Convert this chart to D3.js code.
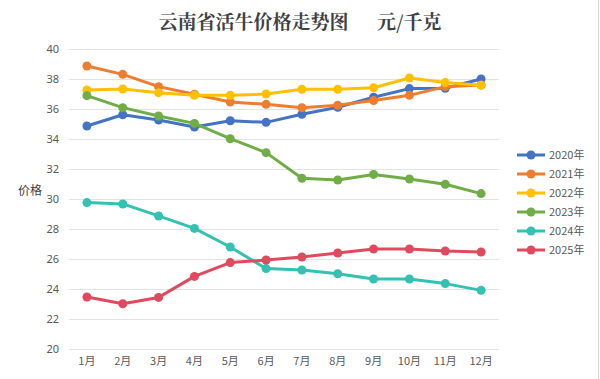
<!DOCTYPE html>
<html><head><meta charset="utf-8">
<script src="https://cdn.jsdelivr.net/npm/d3@7/dist/d3.min.js"></script>
<style>
html,body{margin:0;padding:0;background:#fff;}
svg{display:block;font-family:"Microsoft YaHei","Noto Sans CJK SC","Noto Sans",sans-serif;}
</style></head>
<body><svg id="c" width="600" height="379"></svg>
<script>
const months = ["1月","2月","3月","4月","5月","6月","7月","8月","9月","10月","11月","12月"];
const seriesNames = ["2020年","2021年","2022年","2023年","2024年","2025年"];
const colors = ["#4472C4","#ED7D31","#FFC000","#70AD47","#33C1B1","#E04A5E"];
const v2020 = [34.87,35.62,35.27,34.8,35.22,35.11,35.65,36.12,36.78,37.36,37.38,38.0];
const v2021 = [38.87,38.31,37.49,36.98,36.47,36.31,36.09,36.25,36.56,36.91,37.49,37.6];
const v2022 = [37.27,37.33,37.09,36.91,36.91,37.0,37.31,37.31,37.42,38.07,37.76,37.58];
const v2023 = [36.89,36.09,35.53,35.04,34.02,33.09,31.38,31.27,31.64,31.33,30.98,30.36];
const v2024 = [29.76,29.67,28.87,28.04,26.8,25.36,25.27,25.02,24.67,24.67,24.36,23.91];
const v2025 = [23.47,23.02,23.44,24.84,25.76,25.93,26.13,26.4,26.67,26.67,26.53,26.47];
const yTicks = [20,22,24,26,28,30,32,34,36,38,40];
const title = "云南省活牛价格走势图      元/千克";
const yLabel = "价格";

const allValues = [v2020,v2021,v2022,v2023,v2024,v2025];
const svg = d3.select("#c");

const x = d3.scaleBand().domain(months).range([69,499]);
const y = d3.scaleLinear().domain([20,40]).range([349,49]);

// right border
svg.append("line").attr("x1",598.5).attr("x2",598.5).attr("y1",0).attr("y2",379)
  .attr("stroke","#d9d9d9").attr("stroke-width",1);

// title
svg.append("text").attr("x",300).attr("y",29).attr("text-anchor","middle")
  .attr("font-size",19).attr("font-weight","bold").attr("fill","#404040")
  .attr("font-family","'Noto Serif CJK SC','Noto Sans CJK SC',serif")
  .style("white-space","pre").text(title);

// gridlines
const yAxis = d3.axisLeft(y).tickValues(yTicks).tickSize(-(499-69)).tickPadding(10);
const gy = svg.append("g").attr("transform","translate(69,0)").call(yAxis);
gy.select(".domain").remove();
gy.selectAll(".tick line").attr("stroke","#e3e3e3").attr("stroke-width",1);
gy.selectAll(".tick text").attr("font-size",11).attr("fill","#595959")
  .attr("font-family","'Noto Sans',sans-serif");

const xAxis = d3.axisBottom(x).tickSize(0).tickPadding(8);
const gx = svg.append("g").attr("transform","translate(0,349)").call(xAxis);
gx.select(".domain").remove();
gx.selectAll(".tick text").attr("font-size",11).attr("fill","#595959")
  .attr("font-family","'Noto Sans CJK SC',sans-serif");

svg.append("text").attr("x",30).attr("y",195).attr("text-anchor","middle")
  .attr("font-size",12).attr("fill","#404040").text(yLabel);

const line = d3.line().x((d,i)=>x(months[i])+x.bandwidth()/2).y(d=>y(d));

allValues.forEach((vals,k)=>{
  const g = svg.append("g");
  g.append("path").datum(vals).attr("d",line).attr("fill","none")
    .attr("stroke",colors[k]).attr("stroke-width",3).attr("stroke-linejoin","round");
  g.selectAll("circle").data(vals).join("circle")
    .attr("cx",(d,i)=>x(months[i])+x.bandwidth()/2).attr("cy",d=>y(d))
    .attr("r",4.5).attr("fill",colors[k]);
});

// legend
const lg = svg.append("g");
seriesNames.forEach((n,k)=>{
  const yy = 155 + k*19;
  lg.append("line").attr("x1",517).attr("x2",545).attr("y1",yy).attr("y2",yy)
    .attr("stroke",colors[k]).attr("stroke-width",3);
  lg.append("circle").attr("cx",531).attr("cy",yy).attr("r",4.5).attr("fill",colors[k]);
  lg.append("text").attr("x",549).attr("y",yy+4).attr("font-size",11)
    .attr("fill","#595959").attr("font-family","'Noto Sans CJK SC',sans-serif").text(n);
});
</script></body></html>
